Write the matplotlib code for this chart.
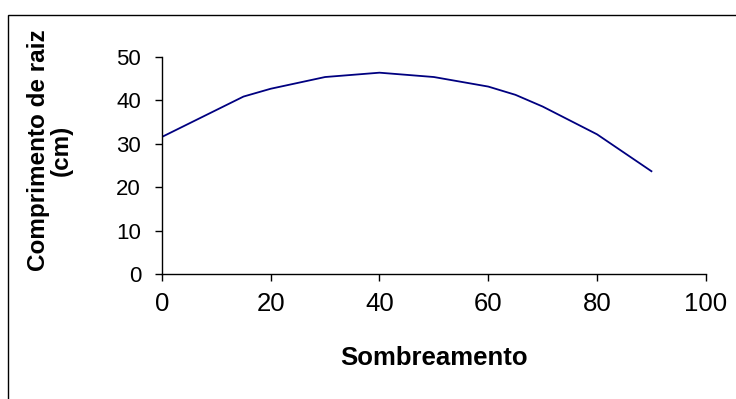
import matplotlib
matplotlib.use("Agg")
import matplotlib.pyplot as plt

# Root length versus shading level
sombreamento = [0, 15, 20, 30, 40, 50, 60, 65, 70, 80, 90]
comprimento = [31.6, 40.9, 42.7, 45.4, 46.4, 45.4, 43.2, 41.3, 38.6, 32.2, 23.7]

x_ticks = [0, 20, 40, 60, 80, 100]
y_ticks = [0, 10, 20, 30, 40, 50]

plt.rcParams["font.family"] = ["Liberation Sans", "DejaVu Sans"]

fig = plt.figure(figsize=(7.36, 3.99), dpi=100)
ax = fig.add_axes([0.220, 0.313, 0.739, 0.544])

ax.plot(sombreamento, comprimento, color="#000080", linewidth=1.3)

ax.set_xlim(0, 100)
ax.set_ylim(0, 50)
ax.set_xticks(x_ticks)
ax.set_yticks(y_ticks)
ax.tick_params(axis="both", direction="out", length=5, width=1)
ax.tick_params(axis="x", pad=8, labelsize=18.5)
ax.tick_params(axis="y", pad=10, labelsize=16)

for side in ("top", "right"):
    ax.spines[side].set_visible(False)
for side in ("left", "bottom"):
    ax.spines[side].set_linewidth(1)

ax.set_xlabel("Sombreamento", fontsize=18.5, fontweight="bold")
ax.xaxis.set_label_coords(0.5, -0.387)
ax.xaxis.label.set_va("center")

ax.set_ylabel("Comprimento de raiz\n(cm)", fontsize=17.5, fontweight="bold",
              linespacing=1.0)
ax.yaxis.set_label_coords(-0.206, 0.571)
ax.yaxis.label.set_va("center")

# outer chart-area frame (extends past the right and bottom edges)
frame = plt.Rectangle((8 / 736, -0.05), 1.2, 1 - 15 / 399 + 0.05,
                      transform=fig.transFigure, fill=False,
                      edgecolor="black", linewidth=1, clip_on=False)
fig.patches.append(frame)

fig.savefig("out.png", dpi=100)
